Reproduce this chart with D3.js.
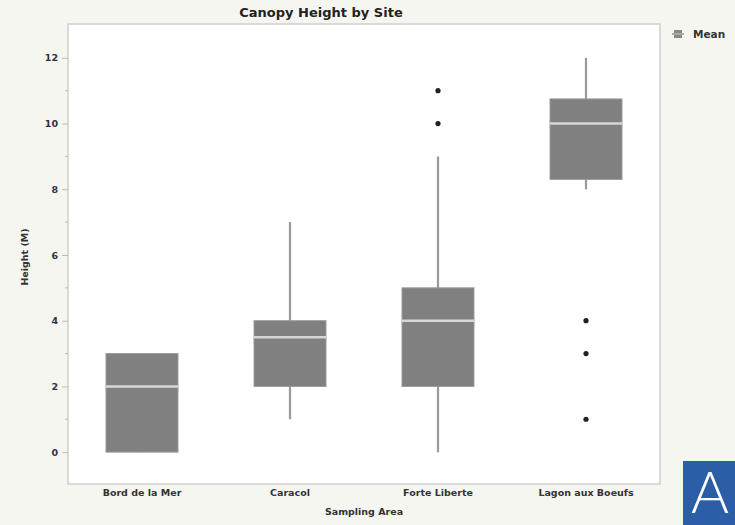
<!DOCTYPE html>
<html>
<head>
<meta charset="utf-8">
<script src="https://cdn.jsdelivr.net/npm/d3@7"></script>
<style>
  body { margin: 0; background: #f6f6f1; }
  svg { display: block; font-family: "DejaVu Sans", Verdana, sans-serif; }
</style>
</head>
<body>
<svg width="735" height="525"></svg>
<script>
var sites = ["Bord de la Mer", "Caracol", "Forte Liberte", "Lagon aux Boeufs"];
var q1 = [0, 2, 2, 8.3];
var medians = [2, 3.5, 4, 10];
var q3 = [3, 4, 5, 10.75];
var whiskLow = [0, 1, 0, 8];
var whiskHigh = [3, 7, 9, 12];
var outlierSite = ["Forte Liberte", "Forte Liberte", "Lagon aux Boeufs", "Lagon aux Boeufs", "Lagon aux Boeufs"];
var outlierVal = [11, 10, 4, 3, 1];
var yTicks = [0, 2, 4, 6, 8, 10, 12];

var svg = d3.select("svg"),
    width = +svg.attr("width"),
    height = +svg.attr("height");

var plotL = 68, plotR = 660, plotT = 24, plotB = 484;

svg.append("rect").attr("width", width).attr("height", height).attr("fill", "#f6f6f1");

var x = d3.scaleBand()
    .domain(sites)
    .range([plotL, plotR]);

var y = d3.scaleLinear()
    .domain([-0.97, 13.03])
    .range([plotB, plotT]);

// plot area
svg.append("rect")
    .attr("x", plotL).attr("y", plotT)
    .attr("width", plotR - plotL).attr("height", plotB - plotT)
    .attr("fill", "#fff")
    .attr("stroke", "#cfcfcf")
    .attr("stroke-width", 1.5);

// y axis
var gy = svg.append("g").attr("transform", "translate(" + plotL + ",0)");
gy.call(d3.axisLeft(y).tickValues(yTicks).tickSize(6).tickPadding(4))
    .select(".domain").remove();
gy.selectAll(".tick line").attr("stroke", "#bbb");
gy.selectAll(".tick text").attr("fill", "#333").attr("font-size", 9.5).attr("font-weight", "bold")
    .attr("font-family", "DejaVu Sans, sans-serif");
gy.append("g").selectAll("line")
    .data(d3.range(1, 13, 2))
    .enter().append("line")
    .attr("x1", -3).attr("x2", 0)
    .attr("y1", function(d) { return y(d); })
    .attr("y2", function(d) { return y(d); })
    .attr("stroke", "#bbb");

// x axis
var gx = svg.append("g").attr("transform", "translate(0," + plotB + ")");
gx.call(d3.axisBottom(x).tickSize(0).tickPadding(5))
    .select(".domain").remove();
gx.selectAll(".tick text").attr("fill", "#333").attr("font-size", 9.5).attr("font-weight", "bold")
    .attr("font-family", "DejaVu Sans, sans-serif");

var bw = 72;

var boxes = svg.append("g").selectAll("g")
    .data(sites)
    .enter().append("g");

// whiskers
boxes.append("line")
    .attr("x1", function(d) { return x(d) + x.bandwidth() / 2; })
    .attr("x2", function(d) { return x(d) + x.bandwidth() / 2; })
    .attr("y1", function(d, i) { return y(whiskLow[i]); })
    .attr("y2", function(d, i) { return y(whiskHigh[i]); })
    .attr("stroke", "#9a9a9a")
    .attr("stroke-width", 2.2);

boxes.append("rect")
    .attr("x", function(d) { return x(d) + x.bandwidth() / 2 - bw / 2; })
    .attr("width", bw)
    .attr("y", function(d, i) { return y(q3[i]); })
    .attr("height", function(d, i) { return y(q1[i]) - y(q3[i]); })
    .attr("fill", "#808080")
    .attr("stroke", "#9a9a9a")
    .attr("stroke-width", 1);

boxes.append("line")
    .attr("x1", function(d) { return x(d) + x.bandwidth() / 2 - bw / 2; })
    .attr("x2", function(d) { return x(d) + x.bandwidth() / 2 + bw / 2; })
    .attr("y1", function(d, i) { return y(medians[i]); })
    .attr("y2", function(d, i) { return y(medians[i]); })
    .attr("stroke", "#d6d6d6")
    .attr("stroke-width", 2.5);

// outliers
svg.append("g").selectAll("circle")
    .data(outlierVal)
    .enter().append("circle")
    .attr("cx", function(d, i) { return x(outlierSite[i]) + x.bandwidth() / 2; })
    .attr("cy", function(d) { return y(d); })
    .attr("r", 2.6)
    .attr("fill", "#222");

// title and labels
svg.append("text")
    .attr("x", 321).attr("y", 17)
    .attr("text-anchor", "middle")
    .attr("font-size", 13).attr("font-weight", "bold").attr("fill", "#222")
    .text("Canopy Height by Site");

svg.append("text")
    .attr("x", 364).attr("y", 515)
    .attr("text-anchor", "middle")
    .attr("font-size", 9.5).attr("font-weight", "bold").attr("fill", "#333")
    .text("Sampling Area");

svg.append("text")
    .attr("transform", "translate(28,257) rotate(-90)")
    .attr("text-anchor", "middle")
    .attr("font-size", 9.5).attr("font-weight", "bold").attr("fill", "#333")
    .text("Height (M)");

// legend
var lg = svg.append("g").attr("transform", "translate(678,34)");
lg.append("rect").attr("x", -4).attr("y", -4).attr("width", 8).attr("height", 8).attr("fill", "#888");
lg.append("line").attr("x1", -6).attr("x2", 6).attr("y1", 0).attr("y2", 0).attr("stroke", "#888").attr("stroke-width", 1.5);
lg.append("line").attr("x1", -4).attr("x2", 4).attr("y1", 0).attr("y2", 0).attr("stroke", "#ccc").attr("stroke-width", 1);
lg.append("text").attr("x", 15).attr("y", 4)
    .attr("font-size", 10.5).attr("font-weight", "bold").attr("fill", "#333")
    .text("Mean");

// panel badge
svg.append("rect").attr("x", 683).attr("y", 461).attr("width", 52).attr("height", 64).attr("fill", "#2a5ea6");
svg.append("text").attr("x", 710).attr("y", 513)
    .attr("text-anchor", "middle")
    .attr("font-size", 58).attr("font-weight", 300).attr("fill", "#fff")
    .attr("font-family", "Lato, 'Open Sans', sans-serif")
    .text("A");
</script>
</body>
</html>
